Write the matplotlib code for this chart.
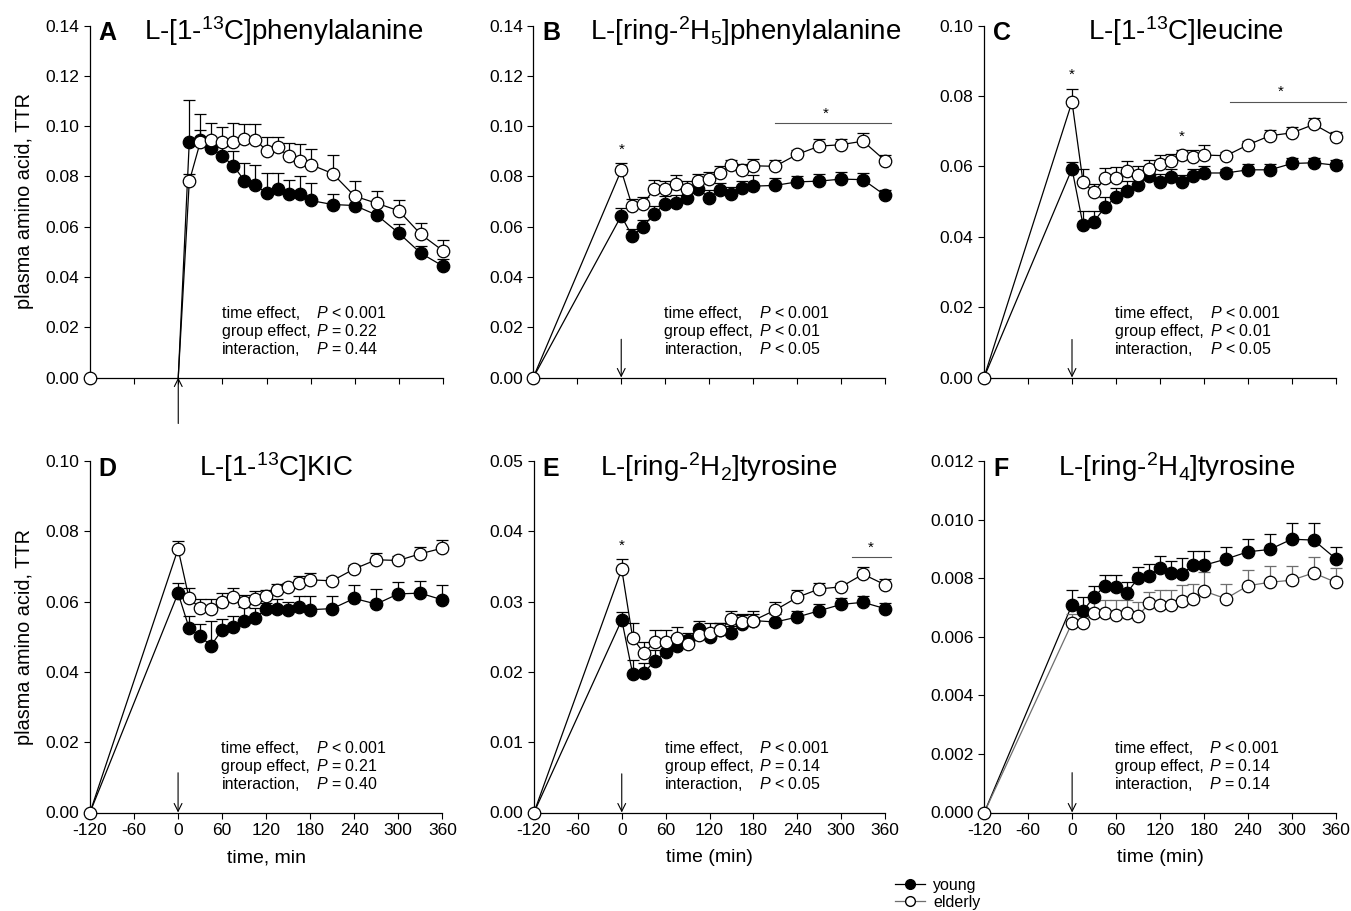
import numpy as np
import matplotlib
matplotlib.use("Agg")
import matplotlib.pyplot as plt
from matplotlib.lines import Line2D

plt.rcParams['font.family'] = ['Liberation Sans', 'DejaVu Sans']
plt.rcParams['mathtext.fontset'] = 'custom'
plt.rcParams['mathtext.rm'] = 'Liberation Sans'
plt.rcParams['mathtext.it'] = 'Liberation Sans:italic'
plt.rcParams['axes.unicode_minus'] = False

# sampling times (min)
times = [0, 15, 30, 45, 60, 75, 90, 105, 120, 135, 150, 165, 180, 210, 240, 270, 300, 330, 360]
times_a = times[1:]

# A  L-[1-13C]phenylalanine
a_young = [0.0937, 0.0946, 0.0913, 0.0880, 0.0842, 0.0783, 0.0764, 0.0734, 0.0748, 0.0730, 0.0730, 0.0704,
           0.0688, 0.0684, 0.0646, 0.0574, 0.0494, 0.0443]
a_young_err = [0.0168, 0.004, 0.003, 0.004, 0.006, 0.007, 0.008, 0.008, 0.0066, 0.0056, 0.007, 0.007,
               0.0043, 0.003, 0.004, 0.0035, 0.003, 0.0027]
a_old = [0.0780, 0.0937, 0.0946, 0.0937, 0.0937, 0.0950, 0.0946, 0.0902, 0.0916, 0.0881, 0.0861, 0.0847,
         0.0811, 0.0721, 0.0693, 0.0663, 0.0569, 0.0504]
a_old_err = [0.003, 0.011, 0.0066, 0.006, 0.0075, 0.006, 0.0064, 0.0055, 0.0041, 0.0052, 0.0067, 0.0062,
             0.0074, 0.0062, 0.0048, 0.0042, 0.0046, 0.0042]

# B  L-[ring-2H5]phenylalanine
b_young = [0.0643, 0.0562, 0.0600, 0.0652, 0.0690, 0.0695, 0.0715, 0.0750, 0.0715, 0.0745, 0.0729, 0.0752,
           0.0761, 0.0764, 0.0778, 0.0781, 0.0789, 0.0787, 0.0725]
b_young_err = [0.003, 0.003, 0.0027, 0.003, 0.003, 0.003, 0.003, 0.003, 0.003, 0.003, 0.003, 0.003,
               0.0045, 0.0028, 0.0025, 0.003, 0.003, 0.0028, 0.0022]
b_old = [0.0824, 0.0681, 0.0690, 0.0750, 0.0750, 0.0768, 0.0750, 0.0781, 0.0789, 0.0815, 0.0844, 0.0826,
         0.0842, 0.0840, 0.0887, 0.0920, 0.0926, 0.0940, 0.0863]
b_old_err = [0.003, 0.003, 0.0026, 0.0035, 0.0031, 0.0038, 0.003, 0.0027, 0.003, 0.0027, 0.002, 0.0025,
             0.0028, 0.0024, 0.0017, 0.0029, 0.0023, 0.0031, 0.002]

# C  L-[1-13C]leucine
c_young = [0.0593, 0.0434, 0.0443, 0.0484, 0.0513, 0.0529, 0.0548, 0.0573, 0.0554, 0.0569, 0.0555, 0.0572,
           0.0581, 0.0581, 0.0590, 0.0590, 0.0608, 0.0610, 0.0603]
c_young_err = [0.002, 0.0038, 0.003, 0.003, 0.0025, 0.003, 0.0025, 0.002, 0.0025, 0.0022, 0.002, 0.002,
               0.002, 0.001, 0.0016, 0.0016, 0.0015, 0.0015, 0.0015]
c_old = [0.0783, 0.0556, 0.0526, 0.0566, 0.0568, 0.0586, 0.0574, 0.0591, 0.0606, 0.0615, 0.0632, 0.0627,
         0.0632, 0.0630, 0.0661, 0.0687, 0.0695, 0.0719, 0.0684]
c_old_err = [0.0036, 0.0036, 0.0024, 0.003, 0.003, 0.003, 0.0026, 0.0028, 0.0027, 0.002, 0.0015, 0.002,
             0.0028, 0.001, 0.0012, 0.0016, 0.0016, 0.0019, 0.0013]

# D  L-[1-13C]KIC
d_young = [0.0624, 0.0525, 0.0501, 0.0475, 0.0520, 0.0529, 0.0544, 0.0552, 0.0580, 0.0578, 0.0575, 0.0586,
           0.0577, 0.0580, 0.0609, 0.0593, 0.0622, 0.0624, 0.0605]
d_young_err = [0.003, 0.0035, 0.0035, 0.0069, 0.003, 0.003, 0.004, 0.003, 0.0016, 0.003, 0.0025, 0.003,
               0.004, 0.0037, 0.0037, 0.0044, 0.0034, 0.0036, 0.0041]
d_old = [0.0750, 0.0609, 0.0582, 0.0579, 0.0600, 0.0613, 0.0598, 0.0606, 0.0615, 0.0632, 0.0642, 0.0654,
         0.0662, 0.0659, 0.0693, 0.0719, 0.0717, 0.0736, 0.0752]
d_old_err = [0.0023, 0.003, 0.0025, 0.0027, 0.0025, 0.0026, 0.0022, 0.0023, 0.0017, 0.0017, 0.0012, 0.0018,
             0.0018, 0.0012, 0.0012, 0.0019, 0.0013, 0.0019, 0.0022]

# E  L-[ring-2H2]tyrosine
e_young = [0.0274, 0.0197, 0.0198, 0.0216, 0.0228, 0.0237, 0.0245, 0.0261, 0.0249, 0.0260, 0.0256, 0.0268,
           0.0273, 0.0271, 0.0278, 0.0287, 0.0296, 0.0299, 0.0290]
e_young_err = [0.0011, 0.002, 0.0015, 0.0015, 0.0012, 0.0015, 0.001, 0.0012, 0.001, 0.001, 0.001, 0.0014,
               0.001, 0.0011, 0.0009, 0.001, 0.0009, 0.0009, 0.0008]
e_old = [0.0346, 0.0248, 0.0227, 0.0242, 0.0243, 0.0248, 0.0239, 0.0253, 0.0256, 0.0260, 0.0275, 0.0271,
         0.0273, 0.0288, 0.0306, 0.0318, 0.0321, 0.0339, 0.0324]
e_old_err = [0.0015, 0.0022, 0.0015, 0.0017, 0.0017, 0.0016, 0.001, 0.0007, 0.0014, 0.001, 0.0011, 0.001,
             0.0014, 0.0011, 0.001, 0.0008, 0.0006, 0.001, 0.0008]

# F  L-[ring-2H4]tyrosine
f_young = [0.00710, 0.00689, 0.00736, 0.00774, 0.00770, 0.00750, 0.00800, 0.00807, 0.00836, 0.00818,
           0.00814, 0.00844, 0.00844, 0.00865, 0.00890, 0.00898, 0.00933, 0.00930, 0.00867]
f_young_err = [0.0005, 0.00045, 0.00038, 0.00037, 0.0004, 0.00038, 0.00039, 0.0004, 0.0004, 0.0004,
               0.00055, 0.00048, 0.0005, 0.00042, 0.00045, 0.00053, 0.00057, 0.00057, 0.0004]
f_old = [0.00648, 0.00648, 0.00682, 0.00680, 0.00675, 0.00682, 0.00670, 0.00714, 0.00708, 0.00710,
         0.00722, 0.00730, 0.00756, 0.00730, 0.00774, 0.00786, 0.00793, 0.00818, 0.00786]
f_old_err = [0.0003, 0.0003, 0.0004, 0.00045, 0.0005, 0.00045, 0.0005, 0.0004, 0.0005, 0.0005,
             0.00055, 0.0005, 0.00065, 0.0005, 0.00053, 0.00055, 0.00047, 0.00053, 0.0005]

panels = [
    dict(letter='A', title=r'L-[1-$^{13}$C]phenylalanine', tx=0.55, t=times_a, base=0,
         y=a_young, ye=a_young_err, o=a_old, oe=a_old_err, ymax=0.14, step=0.02, fmt='%.2f',
         stats=[('time effect,', '< 0.001'), ('group effect,', '= 0.22'), ('interaction,', '= 0.44')],
         arrow=(-0.0183, 0.0), stars=[], bars=[]),
    dict(letter='B', title=r'L-[ring-$^{2}$H$_{5}$]phenylalanine', tx=0.605, t=times, base=-120,
         y=b_young, ye=b_young_err, o=b_old, oe=b_old_err, ymax=0.14, step=0.02, fmt='%.2f',
         stats=[('time effect,', '< 0.001'), ('group effect,', '< 0.01'), ('interaction,', '< 0.05')],
         arrow=(0.0152, 0.0), stars=[(0, 0.0904), (279, 0.1048)], bars=[(210, 368, 0.1014)]),
    dict(letter='C', title=r'L-[1-$^{13}$C]leucine', tx=0.573, t=times, base=-120,
         y=c_young, ye=c_young_err, o=c_old, oe=c_old_err, ymax=0.10, step=0.02, fmt='%.2f',
         stats=[('time effect,', '< 0.001'), ('group effect,', '< 0.01'), ('interaction,', '< 0.05')],
         arrow=(0.0108, 0.0), stars=[(0, 0.0859), (150, 0.0685), (284, 0.0811)], bars=[(215, 373, 0.0782)]),
    dict(letter='D', title=r'L-[1-$^{13}$C]KIC', tx=0.53, t=times, base=-120,
         y=d_young, ye=d_young_err, o=d_old, oe=d_old_err, ymax=0.10, step=0.02, fmt='%.2f',
         stats=[('time effect,', '< 0.001'), ('group effect,', '= 0.21'), ('interaction,', '= 0.40')],
         arrow=(0.0113, 0.0), stars=[], bars=[], xlabel='time, min'),
    dict(letter='E', title=r'L-[ring-$^{2}$H$_{2}$]tyrosine', tx=0.525, t=times, base=-120,
         y=e_young, ye=e_young_err, o=e_old, oe=e_old_err, ymax=0.05, step=0.01, fmt='%.2f',
         stats=[('time effect,', '< 0.001'), ('group effect,', '= 0.14'), ('interaction,', '< 0.05')],
         arrow=(0.0055, 0.0), stars=[(0, 0.0380), (340, 0.0377)], bars=[(315, 368, 0.0364)],
         xlabel='time (min)'),
    dict(letter='F', title=r'L-[ring-$^{2}$H$_{4}$]tyrosine', tx=0.547, t=times, base=-120,
         y=f_young, ye=f_young_err, o=f_old, oe=f_old_err, ymax=0.012, step=0.002, fmt='%.3f',
         stats=[('time effect,', '< 0.001'), ('group effect,', '= 0.14'), ('interaction,', '= 0.14')],
         arrow=(0.00136, 0.0), stars=[], bars=[], xlabel='time (min)', gray=True),
]

# axes rectangles in pixels: left, top, right, bottom
rects = [(90, 25.5, 443, 377.5), (533.3, 25.5, 885, 377.5), (984, 25.5, 1336, 377.5),
         (90, 461, 442.3, 812.5), (534, 461, 885, 812.5), (984.3, 461, 1335.6, 812.5)]

W, H = 1351, 911
fig = plt.figure(figsize=(W / 100, H / 100), dpi=100)

for p, (l, t, r, b) in zip(panels, rects):
    ax = fig.add_axes([l / W, 1 - b / H, (r - l) / W, (b - t) / H])
    ocol = '#6e6e6e' if p.get('gray') else 'black'

    tt = np.array(p['t'])
    # connecting lines incl. baseline
    ax.plot([p['base']] + list(tt), [0] + p['y'], color='black', lw=0.9, zorder=2, clip_on=False)
    ax.plot([p['base']] + list(tt), [0] + p['o'], color=ocol, lw=0.9, zorder=4, clip_on=False)
    # upper error bars only
    ax.errorbar(tt, p['y'], yerr=[np.zeros(len(tt)), p['ye']], fmt='none', ecolor='black',
                elinewidth=0.9, capsize=4.3, capthick=0.9, zorder=1, clip_on=False)
    ax.errorbar(tt, p['o'], yerr=[np.zeros(len(tt)), p['oe']], fmt='none', ecolor=ocol,
                elinewidth=0.9, capsize=4.3, capthick=0.9, zorder=3, clip_on=False)
    ax.plot(tt, p['y'], 'o', ms=9, mfc='black', mec='black', mew=0.9, zorder=5, clip_on=False)
    ax.plot(tt, p['o'], 'o', ms=9, mfc='white', mec='black', mew=0.9, zorder=6, clip_on=False)
    ax.plot([-120], [0], 'o', ms=9, mfc='white', mec='black', mew=0.9, zorder=7, clip_on=False)

    ax.set_xlim(-120, 360)
    ax.set_ylim(0, p['ymax'])
    ax.set_xticks(np.arange(-120, 361, 60))
    ax.set_yticks(np.arange(0, p['ymax'] + p['step'] / 2, p['step']))
    ax.yaxis.set_major_formatter(matplotlib.ticker.FormatStrFormatter(p['fmt']))
    ax.tick_params(direction='out', length=4.5, width=0.8, labelsize=12.5, pad=3)
    for s in ['top', 'right']:
        ax.spines[s].set_visible(False)
    for s in ['left', 'bottom']:
        ax.spines[s].set_linewidth(0.9)
    if 'xlabel' in p:
        ax.set_xlabel(p['xlabel'], fontsize=14, labelpad=8)
    else:
        ax.tick_params(axis='x', labelbottom=False)

    ax.text(0.025, 0.958, p['letter'], transform=ax.transAxes, fontsize=18, fontweight='bold',
            va='baseline', ha='left')
    ax.text(p['tx'], 0.958, p['title'], transform=ax.transAxes, fontsize=20, va='baseline', ha='center')

    for (lab, val), yy in zip(p['stats'], [0.183, 0.132, 0.080]):
        ax.text(0.373, yy, lab, transform=ax.transAxes, fontsize=11.5, va='center', ha='left')
        ax.text(0.641, yy, r'$P$ ' + val, transform=ax.transAxes, fontsize=11.5, va='center', ha='left')

    y0, y1 = p['arrow']
    ax.annotate('', xy=(0, y1), xytext=(0, y0), annotation_clip=False,
                arrowprops=dict(arrowstyle='->', lw=0.8, color='black', mutation_scale=14,
                                shrinkA=0, shrinkB=0))

    for sx, sy in p['stars']:
        ax.text(sx, sy, '*', fontsize=11, ha='center', va='center')
    for x0, x1, by in p['bars']:
        ax.plot([x0, x1], [by, by], color='#555555', lw=0.8, clip_on=False)

fig.text(25 / W, 1 - 201 / H, 'plasma amino acid, TTR', rotation=90, fontsize=14.3, va='center', ha='center')
fig.text(25 / W, 1 - 637 / H, 'plasma amino acid, TTR', rotation=90, fontsize=14.3, va='center', ha='center')

handles = [Line2D([], [], color='black', lw=0.9, marker='o', ms=7, mfc='black', mec='black'),
           Line2D([], [], color='#6e6e6e', lw=0.9, marker='o', ms=7, mfc='white', mec='black')]
fig.legend(handles, ['young', 'elderly'], loc='upper left', bbox_to_anchor=(895 / W, 1 - 878 / H),
           frameon=False, fontsize=11.5, handlelength=1.9, handletextpad=0.5, labelspacing=0.1,
           borderpad=0, borderaxespad=0)

fig.savefig('out.png', dpi=100)
